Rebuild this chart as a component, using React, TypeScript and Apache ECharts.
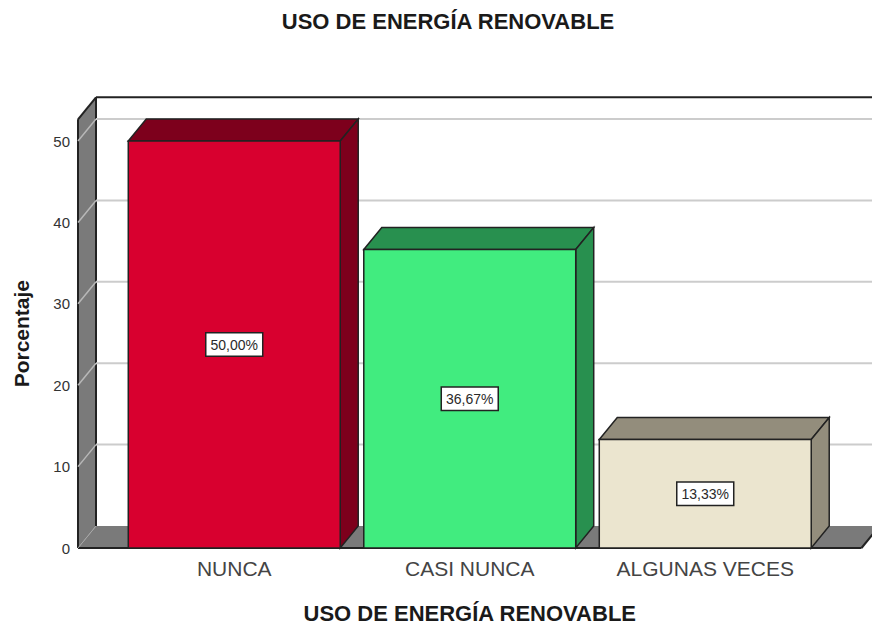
import React, { useEffect, useRef } from "react";
import * as echarts from "echarts";

const TITLE = "USO DE ENERGÍA RENOVABLE";
const Y_NAME = "Porcentaje";
const categories = ["NUNCA", "CASI NUNCA", "ALGUNAS VECES"];
const percentages = [50, 36.67, 13.33];
const valueLabels = ["50,00%", "36,67%", "13,33%"];
const yTicks = [0, 10, 20, 30, 40, 50];
const gridTicks = [10, 20, 30, 40, 50];
const frontColors = ["#d8002f", "#41ec7f", "#ebe5cf"];
const depthColors = ["#7d001c", "#28904f", "#938d7c"];

const DX = 18;
const DY = -22;
const SIDE_PAD = 38.5;
const WALL = "#7a7a7a";
const EDGE = "#222222";

const poly = (points: number[][], fill: string, stroke: string, lineWidth = 1.5) => ({
  type: "polygon",
  shape: { points },
  style: { fill, stroke, lineWidth, lineJoin: "miter" },
});
const seg = (x1: number, y1: number, x2: number, y2: number, stroke: string, lineWidth = 2) => ({
  type: "line",
  shape: { x1, y1, x2, y2 },
  style: { stroke, lineWidth },
});

export default function App() {
  const ref = useRef<HTMLDivElement>(null);
  useEffect(() => {
    document.body.style.margin = "0";
    const chart = echarts.init(ref.current!, null, { renderer: "svg" });
    chart.setOption({
      animation: false,
      backgroundColor: "#ffffff",
      title: {
        text: TITLE,
        left: 443,
        top: 5,
        textAlign: "center",
        textStyle: { fontFamily: "Liberation Sans", fontSize: 22, fontWeight: "bold", color: "#1a1a1a" },
      },
      grid: { left: 116.5, top: 119.3, width: 706.5, height: 428.7, outerBoundsMode: "none" },
      xAxis: {
        type: "category",
        data: categories,
        name: TITLE,
        nameLocation: "middle",
        nameGap: 54,
        nameTextStyle: { fontFamily: "Liberation Sans", fontSize: 22, fontWeight: "bold", color: "#1a1a1a" },
        axisLine: { show: false },
        axisTick: { show: false },
        axisLabel: { margin: 10, fontFamily: "Liberation Sans", fontSize: 21, color: "#444444" },
      },
      yAxis: {
        type: "value",
        min: 0,
        max: 52.67,
        interval: 10,
        offset: 38.5,
        name: Y_NAME,
        nameLocation: "middle",
        nameGap: 46,
        nameTextStyle: { fontFamily: "Liberation Sans", fontSize: 21, fontWeight: "bold", color: "#1a1a1a" },
        axisLine: { show: false },
        axisTick: { show: false },
        splitLine: { show: false },
        axisLabel: {
          customValues: yTicks,
          margin: 8,
          fontFamily: "Liberation Sans",
          fontSize: 15,
          color: "#333333",
        },
      },
      series: [
        {
          type: "custom",
          silent: true,
          clip: false,
          data: [[0, 0]],
          encode: { x: 0, y: 1 },
          renderItem: (params: any) => {
            const c = params.coordSys;
            const left = c.x - SIDE_PAD;
            const right = c.x + c.width + SIDE_PAD;
            const top = c.y;
            const bottom = c.y + c.height;
            const bx = left + DX;
            const farRight = right + DX;
            return {
              type: "group",
              children: [
                poly([[left, top], [bx, top + DY], [bx, bottom + DY], [left, bottom]], WALL, "none", 0),
                poly([[left, bottom], [bx, bottom + DY], [farRight, bottom + DY], [right, bottom]], WALL, "none", 0),
                seg(left, top, bx, top + DY, EDGE),
                seg(left, top, left, bottom, EDGE),
                seg(bx, top + DY, farRight, top + DY, EDGE),
                seg(bx, top + DY, bx, bottom + DY, EDGE),
                seg(left, bottom, right, bottom, EDGE),
                seg(right, bottom, farRight, bottom + DY, EDGE),
                seg(left, bottom, bx, bottom + DY, "#a8a8a8", 1),
              ],
            };
          },
        },
        {
          type: "custom",
          silent: true,
          clip: false,
          data: gridTicks.map((t) => [0, t]),
          encode: { x: 0, y: 1 },
          renderItem: (params: any, api: any) => {
            const c = params.coordSys;
            const y = api.coord([0, api.value(1)])[1];
            const left = c.x - SIDE_PAD;
            const far = c.x + c.width + SIDE_PAD + DX;
            return {
              type: "group",
              children: [
                seg(left, y, left + DX, y + DY, "#b8b8b8", 1.5),
                seg(left + DX, y + DY, far, y + DY, "#cccccc", 2),
              ],
            };
          },
        },
        {
          type: "custom",
          clip: false,
          data: categories.map((_, i) => [i, percentages[i]]),
          encode: { x: 0, y: 1 },
          renderItem: (params: any, api: any) => {
            const i = params.dataIndex;
            const [cx, topY] = api.coord([api.value(0), api.value(1)]);
            const [, baseY] = api.coord([api.value(0), 0]);
            const w = api.size([1, 0])[0] * 0.9;
            const x0 = cx - w / 2;
            const x1 = cx + w / 2;
            return {
              type: "group",
              children: [
                poly([[x0, topY], [x0 + DX, topY + DY], [x1 + DX, topY + DY], [x1, topY]], depthColors[i], EDGE),
                poly([[x1, topY], [x1 + DX, topY + DY], [x1 + DX, baseY + DY], [x1, baseY]], depthColors[i], EDGE),
                poly([[x0, topY], [x1, topY], [x1, baseY], [x0, baseY]], frontColors[i], EDGE),
                {
                  type: "text",
                  x: cx,
                  y: (topY + baseY) / 2,
                  style: {
                    text: valueLabels[i],
                    align: "center",
                    verticalAlign: "middle",
                    fontFamily: "Liberation Sans",
                    fontSize: 14,
                    fill: "#2a2a2a",
                    backgroundColor: "#ffffff",
                    borderColor: "#222222",
                    borderWidth: 1.5,
                    padding: [4, 4, 4, 4],
                  },
                },
              ],
            };
          },
        },
      ],
    });
    return () => chart.dispose();
  }, []);
  return <div ref={ref} style={{ width: 872, height: 625 }} />;
}
